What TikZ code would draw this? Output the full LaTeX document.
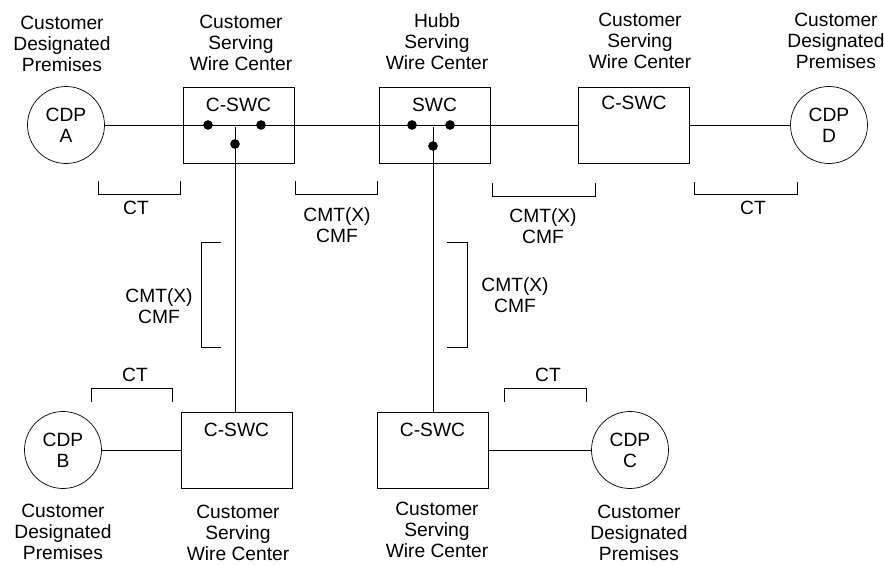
\documentclass[tikz,border=0pt]{standalone}
\usepackage{fontspec}
\setmainfont{Liberation Sans}
\usetikzlibrary{positioning}
\begin{document}
\begin{tikzpicture}[x=0.03cm,y=-0.03cm,line width=0.6pt,
    box/.style={draw,rectangle,minimum width=3.33cm,minimum height=2.28cm,inner sep=0pt},
    site/.style={draw,circle,minimum size=2.31cm,inner sep=0pt,align=center,font=\fontsize{16.4}{18}\selectfont},
    dot/.style={circle,fill,inner sep=0pt,minimum size=0.29cm},
    caption/.style={align=center,inner sep=0pt,font=\fontsize{16.4}{18}\selectfont}]
    \useasboundingbox (0,0) rectangle (884,565);
    \node[site] (cdpA) at (66,125) {CDP\\A};
    \node[box] (cswcA) at (238.5,125) {};
    \node[box] (hub) at (434.5,125) {};
    \node[box] (cswcD) at (634,125) {};
    \node[site] (cdpD) at (829,125) {CDP\\D};
    \node[box] (cswcB) at (236.5,450) {};
    \node[box] (cswcC) at (432.5,450) {};
    \node[site] (cdpB) at (63,450) {CDP\\B};
    \node[site] (cdpC) at (630,450) {CDP\\C};
    \node[caption,below=0.33cm of cswcA.north] (tA) {C-SWC};
    \node[caption,below=0.33cm of hub.north] (tH) {SWC};
    \node[caption,below=0.28cm of cswcD.north] (tD) {C-SWC};
    \node[caption,below=0.33cm of cswcB.north] (tB) {C-SWC};
    \node[caption,below=0.33cm of cswcC.north] (tC) {C-SWC};
    \coordinate (jA) at (235,127);
    \coordinate (jH) at (433,127);
    \draw (cdpA) -- (cswcD);
    \draw (cswcD) -- (cdpD);
    \draw (cdpB) -- (cswcB);
    \draw (cswcC) -- (cdpC);
    \draw (jA) -- (jA |- cswcB.north);
    \draw (jH) -- (jH |- cswcC.north);
    \node[dot] (dA1) at (208,125) {};
    \node[dot] (dA2) at (261,125) {};
    \node[dot] (dA3) at (235,144) {};
    \node[dot] (dH1) at (412,125) {};
    \node[dot] (dH2) at (450,125) {};
    \node[dot] (dH3) at (433,146) {};
    \draw (98,181) |- (180,194) -- (180,181);
    \draw (295,181) |- (377,194) -- (377,181);
    \draw (492,183) |- (595,196) -- (595,183);
    \draw (694,182) |- (797,194) -- (797,182);
    \draw (221,242) -| (201,347) -- (221,347);
    \draw (447,242) -| (467,347) -- (447,347);
    \draw (91,402) |- (172,388) -- (172,402);
    \draw (504,402) |- (586,388) -- (586,402);
    \node[caption] (capA) at (62,44) {Customer\\Designated\\Premises};
    \node[caption] (capCA) at (241,43) {Customer\\Serving\\Wire Center};
    \node[caption] (capH) at (437,42) {Hubb\\Serving\\Wire Center};
    \node[caption] (capCD) at (640,41) {Customer\\Serving\\Wire Center};
    \node[caption] (capD) at (836,41) {Customer\\Designated\\Premises};
    \node[caption] (capB) at (63,532) {Customer\\Designated\\Premises};
    \node[caption] (capCB) at (238,533) {Customer\\Serving\\Wire Center};
    \node[caption] (capCC) at (437,530) {Customer\\Serving\\Wire Center};
    \node[caption] (capC) at (639,533) {Customer\\Designated\\Premises};
    \node[caption] (ct1) at (136,208) {CT};
    \node[caption] (ct2) at (753,208) {CT};
    \node[caption] (ct3) at (135,375) {CT};
    \node[caption] (ct4) at (548,375) {CT};
    \node[caption] (cm1) at (337,225) {CMT(X)\\CMF};
    \node[caption] (cm2) at (543,226) {CMT(X)\\CMF};
    \node[caption] (cm3) at (159,306) {CMT(X)\\CMF};
    \node[caption] (cm4) at (515,295) {CMT(X)\\CMF};
\end{tikzpicture}
\end{document}
